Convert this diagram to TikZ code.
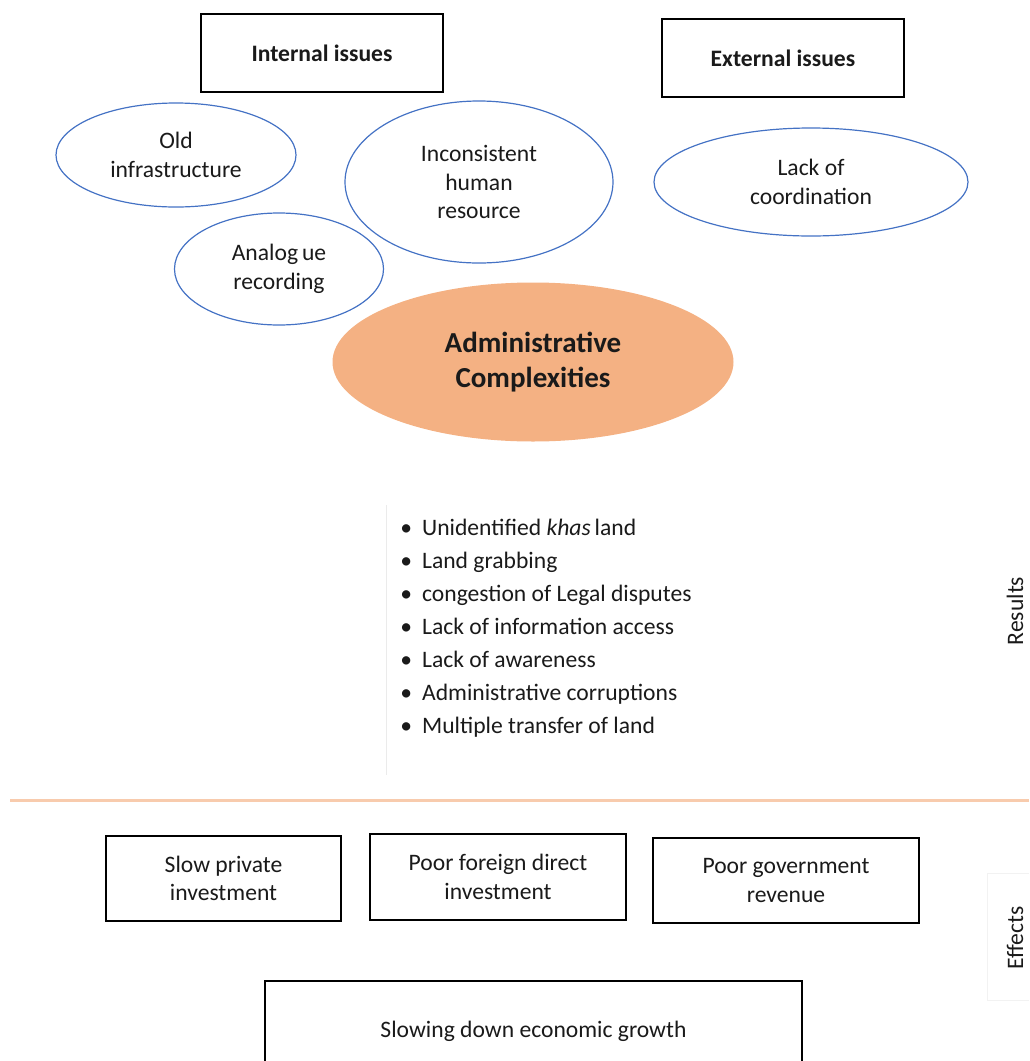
\documentclass[tikz,border=0pt]{standalone}
\usepackage{fontspec}
\setmainfont{Carlito}
\usetikzlibrary{shapes.geometric}
\definecolor{ovalblue}{HTML}{4472C4}
\definecolor{accorange}{HTML}{F4B183}
\definecolor{lineorange}{HTML}{F8CBAD}
\definecolor{inkgray}{HTML}{1A1A1A}

\begin{document}
\begin{tikzpicture}[x=0.5pt, y=-0.5pt, font=\fontsize{11.8}{14.3}\selectfont, text=inkgray,
   bx/.style={draw, line width=0.9pt, align=center, inner sep=0pt},
   ov/.style={draw=ovalblue, ellipse, line width=0.6pt, align=center, inner sep=0pt},
   itm/.style={anchor=base west, inner sep=0pt}]
  \clip (0,0) rectangle (1029,1061);
  % issues
  \node[bx, minimum width=121pt, minimum height=39pt, font=\fontsize{11.8}{14.3}\selectfont\bfseries] (intern) at (322,53) {Internal issues};
  \node[bx, minimum width=121pt, minimum height=39pt, font=\fontsize{11.8}{14.3}\selectfont\bfseries] (extern) at (783,58) {External issues};
  \node[ov, minimum width=120pt, minimum height=52pt] (oldinf) at (176,155) {Old\\ infrastructure};
  \node[ov, minimum width=134pt, minimum height=81pt] (human) at (479,182) {Inconsistent\\ human\\ resource};
  \node[ov, minimum width=104.5pt, minimum height=56pt] (analog) at (279,269) {Analog\,ue\\ recording};
  \node[ov, minimum width=157pt, minimum height=54pt] (coord) at (811,182) {Lack of\\ coordination};
  \node[ellipse, fill=accorange, minimum width=200.5pt, minimum height=79.5pt, align=center, inner sep=0pt,
        font=\fontsize{14.5}{17.5}\selectfont\bfseries] (admin) at (533,362) {Administrative\\ Complexities};
  % results
  \draw[black!8, line width=0.5pt] (386,505) -- (386,775);
  \node[itm] (r1) at (400,535) {\textbullet\hspace{5pt}Unidentified \textit{khas}\,land};
  \node[itm] (r2) at (400,568) {\textbullet\hspace{5pt}Land grabbing};
  \node[itm] (r3) at (400,601) {\textbullet\hspace{5pt}congestion of Legal disputes};
  \node[itm] (r4) at (400,634) {\textbullet\hspace{5pt}Lack of information access};
  \node[itm] (r5) at (400,667) {\textbullet\hspace{5pt}Lack of awareness};
  \node[itm] (r6) at (400,700) {\textbullet\hspace{5pt}Administrative corruptions};
  \node[itm] (r7) at (400,733) {\textbullet\hspace{5pt}Multiple transfer of land};
  \node[rotate=90, inner sep=0pt] (reslbl) at (1015,611) {Results};
  \draw[lineorange, line width=1.5pt] (10,800) -- (1029,800);
  % effects
  \node[bx, minimum width=117.5pt, minimum height=42.5pt] (privinv) at (223.5,878.5) {Slow private\\ investment};
  \node[bx, minimum width=128pt, minimum height=43pt] (fdi) at (498,877) {Poor foreign direct\\ investment};
  \node[bx, minimum width=133pt, minimum height=42.5pt] (govrev) at (786,880.5) {Poor government\\ revenue};
  \draw[black!5, line width=0.5pt] (1029,873) -| (987,1000) -- (1029,1000);
  \node[rotate=90, inner sep=0pt] (efflbl) at (1015,938) {Effects};
  \node[bx, minimum width=268.5pt, minimum height=50pt, anchor=north] (growth) at (533.5,980) {Slowing down economic growth};
\end{tikzpicture}
\end{document}
